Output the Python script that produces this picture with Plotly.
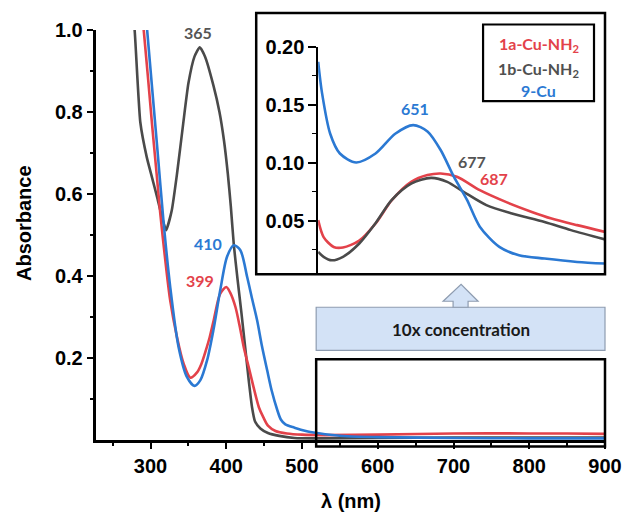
import plotly.graph_objects as go

# ---------------- data ----------------
# Main spectra (wavelength nm, absorbance)
gray_nm = [277, 279, 286.5, 295, 302, 308.6, 315, 320.5, 328, 335, 343, 350, 358, 365, 372, 383, 391,
           397, 402, 406, 410, 415, 420, 425, 430, 434, 438, 445, 455, 470, 490, 520, 600, 700, 800, 900]
gray_abs = [1.03, 1.0, 0.775, 0.69, 0.64, 0.593, 0.545, 0.512, 0.56, 0.65, 0.77, 0.87, 0.935, 0.958, 0.935,
            0.865, 0.80, 0.73, 0.65, 0.57, 0.475, 0.39, 0.31, 0.225, 0.14, 0.08, 0.045, 0.028, 0.017, 0.01,
            0.005, 0.004, 0.005, 0.006, 0.006, 0.006]

red_nm = [289, 291, 302, 308, 313, 320, 326, 335, 343.7, 352.6, 361.4, 367, 372.4, 378, 383.4, 392, 400,
          405, 412, 418, 423, 430, 436, 443, 449, 455, 465, 480, 500, 530, 600, 700, 800, 850, 900]
red_abs = [1.03, 1.0, 0.77, 0.65, 0.55, 0.43, 0.34, 0.25, 0.186, 0.152, 0.165, 0.185, 0.215, 0.25, 0.292,
           0.357, 0.373, 0.36, 0.325, 0.275, 0.227, 0.175, 0.129, 0.08, 0.055, 0.035, 0.022, 0.016,
           0.013, 0.012, 0.013, 0.016, 0.016, 0.016, 0.015]

blue_nm = [294, 295.5, 302, 309, 317, 326, 337, 348, 358, 365.8, 374.6, 383, 392, 401, 410, 418.6, 427.5,
           434, 440.7, 447, 454, 460, 467, 472, 478, 490, 505, 520, 540, 560, 600, 700, 800, 900]
blue_abs = [1.03, 1.0, 0.86, 0.71, 0.536, 0.373, 0.227, 0.154, 0.132, 0.146, 0.194, 0.268, 0.365, 0.447,
            0.475, 0.463, 0.398, 0.345, 0.292, 0.23, 0.17, 0.12, 0.075, 0.05, 0.038, 0.03, 0.022, 0.017,
            0.012, 0.009, 0.007, 0.005, 0.004, 0.004]

# Inset spectra (10x concentration)
in_blue_nm = [530, 535, 545.5, 558, 579, 604, 629.4, 652.5, 671, 688, 705, 722, 738.5, 763.7, 789, 822, 864, 900]
in_blue_abs = [0.187, 0.160, 0.125, 0.108, 0.1003, 0.108, 0.125, 0.1325, 0.127, 0.111, 0.088, 0.068, 0.045,
               0.0276, 0.0204, 0.0175, 0.0146, 0.0132]
in_red_nm = [530, 537, 550, 562, 583, 604, 625, 650, 671, 688, 709, 738.5, 772, 805.6, 831, 864, 900]
in_red_abs = [0.0506, 0.036, 0.0275, 0.027, 0.033, 0.0477, 0.0678, 0.0836, 0.0894, 0.0908, 0.088, 0.0764,
              0.0663, 0.0577, 0.052, 0.0463, 0.0405]
in_gray_nm = [530, 537, 547.6, 562, 583, 604, 625, 650, 675.6, 696.5, 717.5, 747, 780, 822, 856, 900]
in_gray_abs = [0.0232, 0.019, 0.016, 0.019, 0.0305, 0.048, 0.068, 0.082, 0.087, 0.0836, 0.075, 0.0635,
               0.0563, 0.049, 0.042, 0.034]

series_names = ["1a-Cu-NH<sub>2</sub>", "1b-Cu-NH<sub>2</sub>", "9-Cu"]
main_tickvals_x = [300, 400, 500, 600, 700, 800, 900]
main_minor_x = [250, 350, 450, 550, 650, 750, 850]
main_tickvals_y = [0.2, 0.4, 0.6, 0.8, 1.0]
main_ticktext_y = ["0.2", "0.4", "0.6", "0.8", "1.0"]
main_minor_y = [0.1, 0.3, 0.5, 0.7, 0.9]
inset_tickvals_y = [0.05, 0.10, 0.15, 0.20]
inset_ticktext_y = ["0.05", "0.10", "0.15", "0.20"]
inset_minor_y = [0.025, 0.075, 0.125, 0.175]

RED = "#e3424a"
GRAY = "#4a4a4a"
BLUE = "#2b79d3"

# ---------------- layout geometry ----------------
W, H = 622, 513
# plot area in screenshot pixels: x 95.7..605, y 30..439.6
PL, PR, PT, PB = 95.7, 605.0, 30.0, 439.6
ML, MT, MR, MB = PL, PT, W - PR, H - PB
PW = PR - PL
PH = PB - PT


def px(x):
    """pixel x -> paper fraction"""
    return (x - PL) / PW


def py(y):
    """pixel y -> paper fraction"""
    return (PB - y) / PH


fig = go.Figure()

lw = 2.6
sm = 0.8
fig.add_trace(go.Scatter(x=gray_nm, y=gray_abs, mode="lines", line=dict(color=GRAY, width=lw, shape="spline", smoothing=0.5),
                         xaxis="x", yaxis="y", showlegend=False))
fig.add_trace(go.Scatter(x=red_nm, y=red_abs, mode="lines", line=dict(color=RED, width=lw, shape="spline", smoothing=sm),
                         xaxis="x", yaxis="y", showlegend=False))
fig.add_trace(go.Scatter(x=blue_nm, y=blue_abs, mode="lines", line=dict(color=BLUE, width=lw, shape="spline", smoothing=sm),
                         xaxis="x", yaxis="y", showlegend=False))

fig.add_trace(go.Scatter(x=in_red_nm, y=in_red_abs, mode="lines", line=dict(color=RED, width=lw, shape="spline", smoothing=0.8),
                         xaxis="x2", yaxis="y2", showlegend=False))
fig.add_trace(go.Scatter(x=in_gray_nm, y=in_gray_abs, mode="lines", line=dict(color=GRAY, width=lw, shape="spline", smoothing=0.8),
                         xaxis="x2", yaxis="y2", showlegend=False))
fig.add_trace(go.Scatter(x=in_blue_nm, y=in_blue_abs, mode="lines", line=dict(color=BLUE, width=lw, shape="spline", smoothing=0.8),
                         xaxis="x2", yaxis="y2", showlegend=False))

tickfont = dict(family="Liberation Sans, Arial", size=20, color="black", weight="bold")
lblfont = "Lato, Carlito, Calibri, sans-serif"

shapes = [
    # inset frame
    dict(type="rect", xref="paper", yref="paper", x0=px(256), x1=px(605), y0=py(274), y1=py(13),
         line=dict(color="black", width=2.5), fillcolor="rgba(0,0,0,0)", layer="above"),
    # legend frame
    dict(type="rect", xref="paper", yref="paper", x0=px(483), x1=px(594), y0=py(101), y1=py(24.5),
         line=dict(color="black", width=2.2), fillcolor="rgba(0,0,0,0)", layer="above"),
    # "10x concentration" box
    dict(type="rect", xref="paper", yref="paper", x0=px(316), x1=px(605), y0=py(350), y1=py(307),
         line=dict(color="#8e9cb0", width=1.2), fillcolor="#d3e2f6", layer="above"),
    # block arrow
    dict(type="path", xref="paper", yref="paper",
         path=("M {a},{b} L {c},{b} L {c},{d} L {e},{d} L {f},{g} L {h},{d} L {i},{d} L {i},{b} Z").format(
             a=px(453), b=py(307), c=px(468), d=py(301), e=px(478), f=px(461), g=py(284), h=px(443), i=px(453)),
         line=dict(color="#8e9cb0", width=1.2), fillcolor="#d3e2f6", layer="above"),
    # zoom region rectangle on the main plot
    dict(type="rect", xref="paper", yref="paper", x0=px(316), x1=px(605), y0=py(446), y1=py(359),
         line=dict(color="black", width=2.5), fillcolor="rgba(0,0,0,0)", layer="above"),
]


def lbl(size, color):
    return dict(family=lblfont, size=size, color=color, weight="bold")


def ann(text, x, y, xref, yref, font, **kw):
    return dict(text=text, x=x, y=y, xref=xref, yref=yref, showarrow=False, font=font,
                xanchor="center", yanchor="middle", **kw)


annotations = [
    ann("365", 363, 0.995, "x", "y", lbl(16, "#555555")),
    ann("410", 376, 0.479, "x", "y", lbl(16, BLUE)),
    ann("399", 365.8, 0.39, "x", "y", lbl(16, RED)),
    ann("651", 654.6, 0.147, "x2", "y2", lbl(16, BLUE)),
    ann("677", 728, 0.101, "x2", "y2", lbl(16, "#555555")),
    ann("687", 757, 0.0865, "x2", "y2", lbl(16, RED)),
    # legend entries
    ann(series_names[0], px(538.5), py(44), "paper", "paper", lbl(16, RED)),
    ann(series_names[1], px(538.5), py(69), "paper", "paper", lbl(16, "#505050")),
    ann(series_names[2], px(538.5), py(90), "paper", "paper", lbl(16, BLUE)),
    # box text
    ann("10x concentration", px(461), py(329), "paper", "paper", lbl(17, "#1a1a1a")),
    # axis titles
    ann("λ (nm)", px(351), py(501), "paper", "paper",
        dict(family="Liberation Sans, Arial", size=20, color="black", weight="bold")),
    ann("Absorbance", px(23), py(222.5), "paper", "paper",
        dict(family="Liberation Sans, Arial", size=20, color="black", weight="bold"), textangle=-90),
]

fig.update_layout(
    width=W, height=H,
    margin=dict(l=ML, r=MR, t=MT, b=MB, autoexpand=False),
    paper_bgcolor="white", plot_bgcolor="white",
    showlegend=False,
    hovermode=False,
    xaxis=dict(range=[228, 900], domain=[0, 1], showgrid=False, zeroline=False, automargin=False,
               showline=True, linecolor="black", linewidth=2.5,
               ticks="outside", ticklen=6, tickwidth=2.2, tickcolor="black",
               tickvals=main_tickvals_x, tickfont=tickfont,
               minor=dict(tickvals=main_minor_x, ticks="outside", ticklen=3.5, tickwidth=2, tickcolor="black")),
    yaxis=dict(range=[0, 1.0], domain=[0, 1], showgrid=False, zeroline=False, automargin=False,
               showline=True, linecolor="black", linewidth=2.5,
               ticks="outside", ticklen=6.5, tickwidth=2.2, tickcolor="black",
               tickvals=main_tickvals_y, ticktext=main_ticktext_y, tickfont=tickfont,
               minor=dict(tickvals=main_minor_y, ticks="outside", ticklen=3.5, tickwidth=2, tickcolor="black")),
    xaxis2=dict(range=[530, 900], domain=[px(318), 1.0], anchor="y2", visible=False, showgrid=False,
                automargin=False),
    yaxis2=dict(range=[0.004, 0.20], domain=[py(274), py(46.7)], anchor="x2", showgrid=False, zeroline=False,
                automargin=False, showline=True, linecolor="black", linewidth=1.6,
                ticks="outside", ticklen=8, tickwidth=1.6, tickcolor="black",
                tickvals=inset_tickvals_y, ticktext=inset_ticktext_y,
                tickfont=dict(family="Liberation Sans, Arial", size=20, color="black", weight="bold"),
                minor=dict(tickvals=inset_minor_y, ticks="outside", ticklen=4, tickwidth=1.4, tickcolor="black")),
    shapes=shapes,
    annotations=annotations,
)

# remove the default 8px page margin so the figure fills the 622x513 window exactly
fig.write_html("out.html", config={"displayModeBar": False},
               post_script="document.body.style.margin='0';document.body.style.overflow='hidden';")
